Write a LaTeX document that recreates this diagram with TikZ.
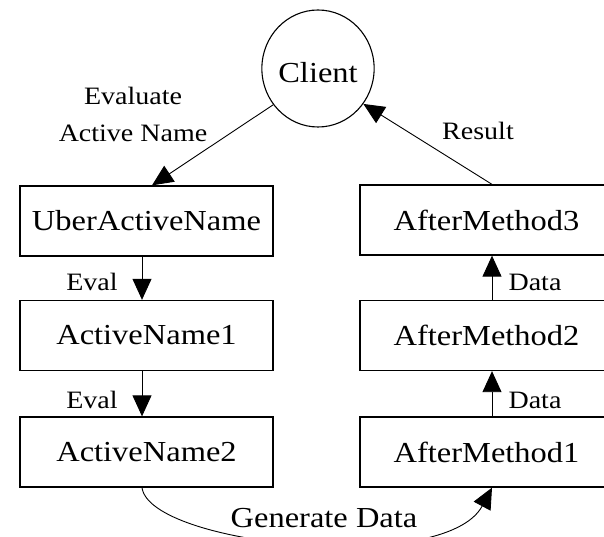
\documentclass[tikz,border=0pt]{standalone}
\usepackage{fontspec}
\setmainfont[FakeStretch=1.12]{Liberation Serif}
\usetikzlibrary{arrows.meta,shapes.geometric}
\tikzset{
  box/.style={draw, line width=1.3pt, minimum width=253pt, minimum height=70pt, inner sep=0pt, font=\fontsize{29}{34}\selectfont},
  lbl/.style={font=\fontsize{25}{30}\selectfont, inner sep=0pt, anchor=base},
  conn/.style={line width=0.9pt, -{Triangle[length=21pt,width=19pt]}},
}
\begin{document}
\begin{tikzpicture}[x=1pt,y=-1pt]
\useasboundingbox (0,0) rectangle (604,537);
\clip (0,0) rectangle (604,537);
\node[ellipse, draw, line width=1.1pt, minimum width=110pt, minimum height=117pt, inner sep=0pt, font=\fontsize{29}{34}\selectfont] (client) at (318,68.5) {\raisebox{-4pt}[\height][\depth]{Client}};
\node[box] (ub) at (146.5,221) {UberActiveName};
\node[box] (an1) at (146.5,335.5) {ActiveName1};
\node[box] (an2) at (146.5,452) {ActiveName2};
\node[box] (am3) at (486.5,220) {AfterMethod3};
\node[box] (am2) at (486.5,335.5) {AfterMethod2};
\node[box] (am1) at (486.5,452) {AfterMethod1};
\draw[conn] (client.219) -- ([xshift=5.5pt]ub.north);
\draw[conn] ([xshift=-4.5pt]ub.south) -- ([xshift=-4.5pt]an1.north);
\draw[conn] ([xshift=-4.5pt]an1.south) -- ([xshift=-4.5pt]an2.north);
\draw[conn] ([xshift=5.5pt]am1.north) -- ([xshift=5.5pt]am2.south);
\draw[conn] ([xshift=5.5pt]am2.north) -- ([xshift=5.5pt]am3.south);
\draw[conn] ([xshift=5.5pt]am3.north) -- (client.322);
\draw[conn] ([xshift=-4.5pt]an2.south) .. controls +(8,58) and +(-47,88) .. ([xshift=5.5pt]am1.south);
\node[lbl] (ev1) at (92,290) {Eval};
\node[lbl] (ev2) at (92,408) {Eval};
\node[lbl] (d1) at (535,290) {Data};
\node[lbl] (d2) at (535,408) {Data};
\node[lbl] (res) at (478,140) {Result};
\node[lbl, font=\fontsize{29}{34}\selectfont] (gen) at (324,527) {Generate Data};
\node[font=\fontsize{25}{37}\selectfont, align=center, inner sep=0pt] (eva) at (133,114.6) {Evaluate\\Active Name};
\end{tikzpicture}
\end{document}
